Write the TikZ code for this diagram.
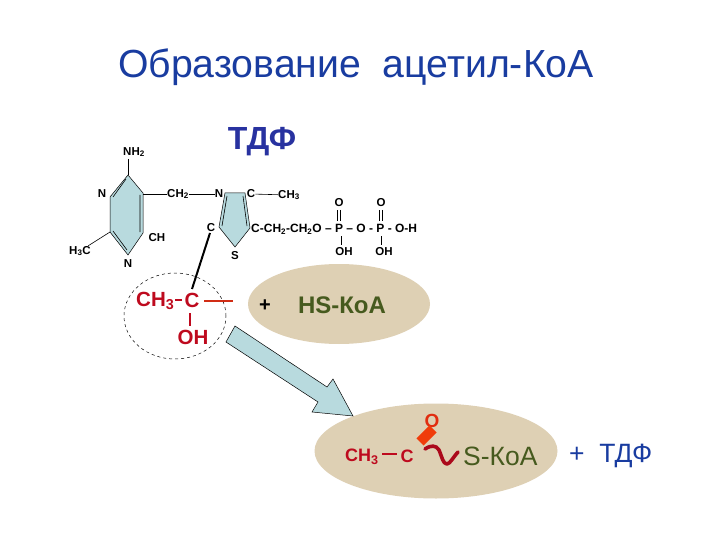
\documentclass[tikz,border=0pt]{standalone}
\usepackage{fontspec}
\setmainfont{Liberation Sans}
\usetikzlibrary{shapes.geometric}
\definecolor{titleblue}{RGB}{25,60,160}
\definecolor{tdfblue}{RGB}{40,50,160}
\definecolor{ringfill}{RGB}{184,218,222}
\definecolor{tan}{RGB}{222,208,180}
\definecolor{darkred}{RGB}{190,10,30}
\definecolor{koagreen}{RGB}{70,90,30}
\definecolor{orangered}{RGB}{240,60,10}
\tikzset{
 x=1pt,y=-1pt,
 chem/.style={inner sep=0pt,font=\bfseries\fontsize{11.5}{13}\selectfont},
 bond/.style={draw=black,line width=0.6pt},
 redtxt/.style={inner sep=0pt,text=darkred,font=\bfseries\fontsize{20.5}{22}\selectfont},
 redbond/.style={draw=darkred,line width=1.8pt},
 ring/.style={draw=black,line width=0.5pt,fill=ringfill},
 blob/.style={ellipse,fill=tan,inner sep=0pt}
}
\begin{document}
\begin{tikzpicture}
\useasboundingbox (0,0) rectangle (720,540);
\node[inner sep=0pt,text=titleblue,font=\fontsize{39.2}{42}\selectfont] (title) at (356,67) {Образование\ \ ацетил-КоА};
\node[inner sep=0pt,text=tdfblue,font=\bfseries\fontsize{32}{34}\selectfont] (tdf) at (262,142) {ТДФ};
% rings
\draw[ring] (128,175) -- (143,193) -- (143,233) -- (128,255) -- (110,232) -- (110,197) -- cycle;
\draw[bond] (126,179) -- (113,197) (140,195) -- (140,232) (113,231) -- (127,250);
\draw[ring] (225,193) -- (245,193) -- (250,228) -- (235,247) -- (219,227) -- cycle;
\draw[bond] (227,196) -- (222,226) (243,196) -- (247,226);
% left labels
\node[chem] (nh2) at (134,152) {NH\textsubscript{2}};
\node[chem] (n1) at (102,194) {N};
\node[chem] (ch2) at (178,194) {CH\textsubscript{2}};
\node[chem] (n2) at (219,194) {N};
\node[chem] (c1) at (251,194) {C};
\node[chem] (ch3a) at (289,195) {CH\textsubscript{3}};
\node[chem] (cring) at (211,228) {C};
\node[chem] (ch) at (157,238) {CH};
\node[chem] (h3c) at (80,251) {H\textsubscript{3}C};
\node[chem] (n3) at (128,264) {N};
\node[chem] (s) at (235,256) {S};
\coordinate (nh2b) at (128,159);
\coordinate (ringtop) at (128,175);
\coordinate (ringright) at (143,194);
\coordinate (ringleft) at (110,232);
\draw[bond] (nh2b) -- (ringtop);
\draw[bond] (ringright) -- (ch2);
\draw[bond] (ch2) -- (n2);
\draw[bond] (c1) -- (ch3a);
\draw[bond] (h3c) -- (ringleft);
% phosphate chain
\node[inner sep=0pt,font=\bfseries\fontsize{12}{13}\selectfont,anchor=west] (chain) at (251,229) {C-CH\textsubscript{2}-CH\textsubscript{2}O -- P -- O - P - O-H};
\node[chem] (o1) at (339,203) {O};
\node[chem] (o2) at (381,203) {O};
\node[chem] (oh1) at (344,252) {OH};
\node[chem] (oh2) at (384,252) {OH};
\coordinate (p1) at (341,236);
\coordinate (p2) at (381,236);
\coordinate (p1b) at (341,245);
\coordinate (p2b) at (381,245);
\coordinate (d1a) at (339,210);
\coordinate (d1b) at (339,221);
\coordinate (d2a) at (381,210);
\coordinate (d2b) at (381,221);
\draw[bond,double,double distance=2.5pt,line width=0.5pt] (d1a) -- (d1b);
\draw[bond,double,double distance=2.5pt,line width=0.5pt] (d2a) -- (d2b);
\draw[bond] (p1) -- (p1b);
\draw[bond] (p2) -- (p2b);
% dashed circle and acetyl
\node[draw,dashed,ellipse,minimum width=102pt,minimum height=86pt,inner sep=0pt,line width=0.5pt] (circ) at (175,316) {};
\node[redtxt,anchor=west] (ch3r) at (136,301) {CH\textsubscript{3}};
\node[redtxt] (cr) at (192,300) {C};
\node[redtxt] (ohr) at (193,337) {OH};
\coordinate (crt) at (192,289);
\coordinate (cringb) at (210,233);
\draw[line width=2pt] (cringb) -- (crt);
\coordinate (ba) at (175,300);
\coordinate (bb) at (182,300);
\draw[redbond] (ba) -- (bb);
\coordinate (va) at (190,313);
\coordinate (vb) at (190,326);
\draw[redbond] (va) -- (vb);
\coordinate (dangA) at (204,301);
\coordinate (dangB) at (233,301);
\draw[draw=darkred!70!orange,line width=1.8pt] (dangA) -- (dangB);
% HS-KoA
\node[blob,minimum width=182pt,minimum height=80pt] (hsblob) at (339,304) {};
\node[inner sep=0pt,font=\bfseries\fontsize{20}{22}\selectfont] (plus1) at (265,306) {+};
\node[inner sep=0pt,text=koagreen,font=\bfseries\fontsize{24}{26}\selectfont] (hs) at (342,305) {HS-КоА};
% product
\node[blob,minimum width=243pt,minimum height=95pt] (prodblob) at (436,451) {};
\draw[draw=black,line width=0.5pt,fill=ringfill] (235,326) -- (226,342) -- (318,402) -- (312,412) -- (353,416) -- (333,379) -- (327,387) -- cycle;
\node[inner sep=0pt,text=darkred,font=\bfseries\fontsize{18}{20}\selectfont,anchor=west] (ch3p) at (345,457) {CH\textsubscript{3}};
\node[inner sep=0pt,text=darkred,font=\bfseries\fontsize{18}{20}\selectfont] (cp) at (407,456) {C};
\coordinate (pba) at (382,454);
\coordinate (pbb) at (397,454);
\draw[redbond] (pba) -- (pbb);
\node[inner sep=0pt,text=orangered!70!darkred,font=\bfseries\fontsize{19}{21}\selectfont] (op) at (432,421) {O};
\coordinate (oa) at (433,429);
\coordinate (ob) at (420,442);
\draw[draw=orangered,line width=10pt] (oa) -- (ob);
\draw[draw=darkred!90!black,line width=3.6pt,line cap=round,line join=round] (425,449) .. controls (431,445) and (436,445) .. (439,450) .. controls (442,457) and (443,464) .. (447,464) .. controls (450,464) and (454,456) .. (458,452);
\node[inner sep=0pt,text=koagreen,font=\fontsize{26.5}{28}\selectfont,anchor=west] (skoa) at (463,456) {S-КоА};
\node[inner sep=0pt,text=titleblue,font=\fontsize{26.5}{28}\selectfont,anchor=west] (ptdf) at (569,456) {+\ \ ТДФ};
\end{tikzpicture}
\end{document}
